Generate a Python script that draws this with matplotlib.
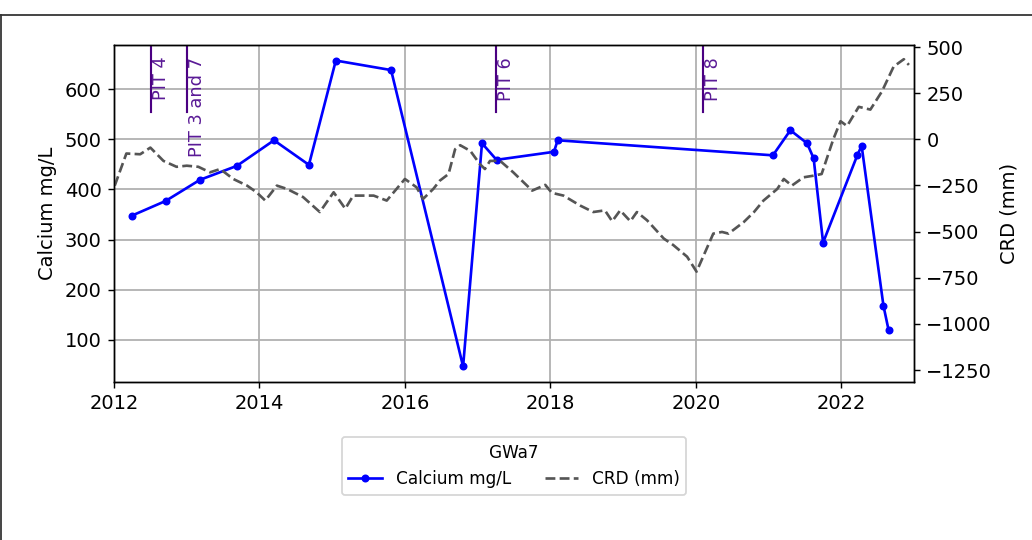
import matplotlib
matplotlib.use("Agg")
import matplotlib.pyplot as plt
from matplotlib.lines import Line2D

# Calcium samples for well GWa7 (decimal year, mg/L)
ca_year = [2012.25, 2012.71, 2013.18, 2013.69, 2014.20, 2014.68, 2015.05, 2015.81,
           2016.80, 2017.06, 2017.26, 2018.05, 2018.10, 2021.06, 2021.30, 2021.53,
           2021.62, 2021.75, 2022.22, 2022.28, 2022.58, 2022.65]
ca_value = [348, 377, 419, 447, 498, 449, 657, 638,
            47, 492, 459, 475, 498, 468, 518, 492,
            462, 294, 468, 487, 168, 120]

# Cumulative rainfall departure (decimal year, mm)
crd_year = [2012.01, 2012.17, 2012.36, 2012.50, 2012.68, 2012.86, 2013.00, 2013.16,
            2013.32, 2013.46, 2013.64, 2013.83, 2013.96, 2014.08, 2014.24, 2014.38,
            2014.60, 2014.83, 2015.02, 2015.18, 2015.29, 2015.57, 2015.75, 2016.00,
            2016.16, 2016.25, 2016.39, 2016.48, 2016.60, 2016.69, 2016.76, 2016.90,
            2017.03, 2017.10, 2017.17, 2017.31, 2017.49, 2017.75, 2017.93, 2018.02,
            2018.18, 2018.41, 2018.59, 2018.75, 2018.85, 2018.96, 2019.10, 2019.19,
            2019.33, 2019.56, 2019.69, 2019.88, 2020.01, 2020.24, 2020.36, 2020.45,
            2020.66, 2020.80, 2020.93, 2021.12, 2021.21, 2021.32, 2021.48, 2021.62,
            2021.73, 2021.89, 2021.99, 2022.08, 2022.24, 2022.40, 2022.56, 2022.72,
            2022.86, 2022.93]
crd_value = [-251, -77, -81, -45, -117, -149, -143, -149,
             -179, -161, -215, -251, -287, -332, -251, -269,
             -313, -394, -287, -376, -305, -305, -332, -215,
             -260, -323, -269, -224, -188, -54, -32, -63,
             -134, -161, -117, -117, -179, -278, -247, -290,
             -305, -359, -394, -385, -444, -385, -444, -394,
             -439, -538, -573, -636, -717, -511, -502, -511,
             -448, -394, -332, -269, -215, -251, -206, -197,
             -188, 0, 98, 72, 176, 161, 260, 394,
             434, 403]

# pumping test events
pit_year = [2012.51, 2013.01, 2017.25, 2020.10]
pit_label = ["PIT 4", "PIT 3 and 7", "PIT 6", "PIT 8"]

plt.rcParams["font.size"] = 11

fig = plt.figure(figsize=(1032 / 128, 540 / 128), dpi=128)
ax = fig.add_axes([114 / 1032, 1 - 382 / 540, 800 / 1032, 337 / 540])
ax2 = ax.twinx()

l1, = ax.plot(ca_year, ca_value, color="blue", marker=".", markersize=7,
              linewidth=1.5, label="Calcium mg/L")
l2, = ax2.plot(crd_year, crd_value, color="#555555", linestyle="--",
               linewidth=1.5, label="CRD (mm)")

for x, lab in zip(pit_year, pit_label):
    ax.axvline(x, ymin=0.8, ymax=1.0, color="indigo", linewidth=1.2)
    ax.text(x + 0.01, 0.965, lab, transform=ax.get_xaxis_transform(),
            rotation=90, ha="left", va="top", color="#5a1a96", fontsize=10)

ax.set_xlim(2012, 2023)
ax.set_xticks([2012, 2014, 2016, 2018, 2020, 2022])
ax.set_ylim(16, 688)
ax2.set_ylim(-1315, 511)
ax.grid(True, color="#b0b0b0", linewidth=1.0)
ax.set_ylabel("Calcium mg/L")
ax2.set_ylabel("CRD (mm)")

ax.legend(handles=[l1, l2], title="GWa7", ncol=2, loc="upper center",
          bbox_to_anchor=(0.5, -0.138), fontsize=9.5, title_fontsize=9.5)

# outer frame edges visible in the source image
fig.add_artist(Line2D([0, 1], [1 - 15 / 540] * 2, transform=fig.transFigure,
                      color="#333333", linewidth=1.0))
fig.add_artist(Line2D([0.001, 0.001], [0, 1 - 15 / 540], transform=fig.transFigure,
                      color="#333333", linewidth=1.0))

fig.savefig("out.png", dpi=128)
